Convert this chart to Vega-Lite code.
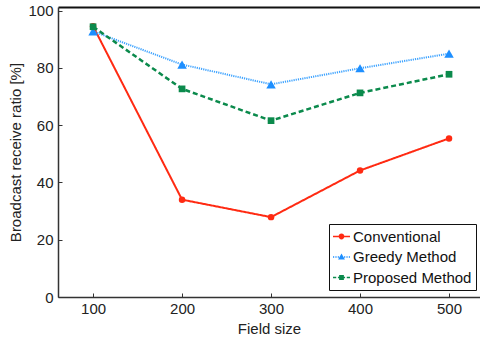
{
  "$schema": "https://vega.github.io/schema/vega-lite/v6.json",
  "width": 422,
  "height": 290,
  "autosize": "none",
  "padding": {"left": 58, "top": 7, "right": 0, "bottom": 43},
  "background": "white",
  "config": {
    "view": {"stroke": null},
    "font": "Liberation Sans",
    "axis": {"grid": false, "domainColor": "#333333", "domainWidth": 1.5, "tickColor": "#333333", "labelColor": "#222222", "titleColor": "#222222", "labelFontSize": 15, "titleFontSize": 15, "titleFontWeight": "normal"},
    "legend": {"symbolSize": 289, "symbolStrokeWidth": 0, "labelFontSize": 15, "labelColor": "#111111", "strokeColor": "#111111", "fillColor": "white", "padding": 4, "rowPadding": 3.5, "labelOffset": 3, "title": null}
  },
  "data": {"values": [
    {"size": 100, "series": "Conventional", "value": 94.6},
    {"size": 200, "series": "Conventional", "value": 34.0},
    {"size": 300, "series": "Conventional", "value": 27.9},
    {"size": 400, "series": "Conventional", "value": 44.2},
    {"size": 500, "series": "Conventional", "value": 55.4},
    {"size": 100, "series": "Greedy Method", "value": 92.8},
    {"size": 200, "series": "Greedy Method", "value": 81.2},
    {"size": 300, "series": "Greedy Method", "value": 74.3},
    {"size": 400, "series": "Greedy Method", "value": 79.9},
    {"size": 500, "series": "Greedy Method", "value": 85.0},
    {"size": 100, "series": "Proposed Method", "value": 94.4},
    {"size": 200, "series": "Proposed Method", "value": 72.7},
    {"size": 300, "series": "Proposed Method", "value": 61.6},
    {"size": 400, "series": "Proposed Method", "value": 71.3},
    {"size": 500, "series": "Proposed Method", "value": 77.8}
  ]},
  "layer": [
    {
      "mark": {"type": "line", "clip": true},
      "encoding": {
        "x": {"field": "size", "type": "quantitative", "scale": {"domain": [60.6, 534.8], "nice": false, "zero": false},
              "axis": {"orient": "bottom", "values": [100, 200, 300, 400, 500], "tickSize": -4, "labelPadding": 8, "title": "Field size", "titlePadding": 5}},
        "y": {"field": "value", "type": "quantitative", "scale": {"domain": [0, 101.3], "nice": false},
              "axis": {"values": [0, 20, 40, 60, 80, 100], "tickSize": -4, "labelPadding": 9, "title": "Broadcast receive ratio [%]", "titlePadding": 4}},
        "color": {"field": "series", "type": "nominal", "scale": {"domain": ["Conventional", "Greedy Method", "Proposed Method"], "range": ["#ff2a12", "#3ea3ff", "#0b8a4c"]}, "legend": null},
        "strokeDash": {"field": "series", "type": "nominal", "scale": {"domain": ["Conventional", "Greedy Method", "Proposed Method"], "range": [[1, 0], [1.2, 1], [5, 3]]}, "legend": null},
        "strokeWidth": {"field": "series", "type": "nominal", "scale": {"type": "ordinal", "domain": ["Conventional", "Greedy Method", "Proposed Method"], "range": [2, 2, 2.5]}, "legend": null}
      }
    },
    {
      "mark": {"type": "point", "filled": true, "opacity": 1},
      "encoding": {
        "x": {"field": "size", "type": "quantitative", "axis": null},
        "y": {"field": "value", "type": "quantitative"},
        "color": {"field": "series", "type": "nominal", "scale": {"domain": ["Conventional", "Greedy Method", "Proposed Method"], "range": ["#ff2a12", "#1e8fff", "#0b8a4c"]}, "legend": null},
        "shape": {"field": "series", "type": "nominal", "scale": {"domain": ["Conventional", "Greedy Method", "Proposed Method"], "range": ["circle", "triangle-up", "square"]}, "legend": null},
        "size": {"field": "series", "type": "nominal", "scale": {"type": "ordinal", "domain": ["Conventional", "Greedy Method", "Proposed Method"], "range": [42, 90, 45]}, "legend": null}
      }
    },
    {
      "transform": [{"filter": "datum.size < 0"}],
      "mark": {"type": "point", "filled": true, "opacity": 1},
      "encoding": {
        "x": {"field": "size", "type": "quantitative", "axis": {"orient": "top", "labels": false, "ticks": false, "title": null, "domainColor": "#111111", "domainWidth": 2}},
        "y": {"field": "value", "type": "quantitative"},
        "color": {"field": "series", "type": "nominal", "scale": {"domain": ["Conventional", "Greedy Method", "Proposed Method"], "range": ["#ff2a12", "#1e8fff", "#0b8a4c"]},
                  "legend": {"orient": "none", "legendX": 271, "legendY": 217}},
        "shape": {"field": "series", "type": "nominal", "scale": {"domain": ["Conventional", "Greedy Method", "Proposed Method"], "range": [
          "M-1,-0.09H1V0.09H-1Z M-0.34,0A0.34,0.34 0 1,1 0.34,0A0.34,0.34 0 1,1 -0.34,0Z",
          "M-1,-0.08H-0.86V0.08H-1Z M-0.72,-0.08H-0.58V0.08H-0.72Z M-0.44,-0.08H-0.3V0.08H-0.44Z M0.3,-0.08H0.44V0.08H0.3Z M0.58,-0.08H0.72V0.08H0.58Z M0.86,-0.08H1V0.08H0.86Z M0,-0.42L0.4,0.28L-0.4,0.28Z",
          "M-1,-0.1H-0.62V0.1H-1Z M-0.42,-0.1H-0.2V0.1H-0.42Z M0.2,-0.1H0.42V0.1H0.2Z M0.62,-0.1H1V0.1H0.62Z M-0.28,-0.28H0.28V0.28H-0.28Z"
        ]}, "legend": {"orient": "none", "legendX": 271, "legendY": 217}}
      }
    }
  ],
  "resolve": {"scale": {"color": "independent", "shape": "independent"}, "axis": {"x": "independent"}}
}
